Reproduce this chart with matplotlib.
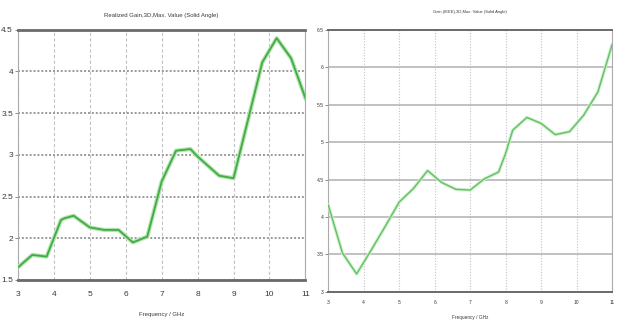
import matplotlib
matplotlib.use("Agg")
import matplotlib.pyplot as plt

# Realized gain (left panel)
freq_left = [3.0, 3.4, 3.8, 4.2, 4.3, 4.55, 5.0, 5.4, 5.8, 6.2, 6.6, 7.0, 7.4, 7.8, 8.0, 8.6, 9.0, 9.8, 10.2, 10.6, 11.0]
gain_left = [1.65, 1.80, 1.78, 2.22, 2.24, 2.27, 2.13, 2.10, 2.10, 1.95, 2.02, 2.68, 3.05, 3.07, 2.98, 2.75, 2.72, 4.11, 4.40, 4.16, 3.68]

# IEEE gain (right panel)
freq_right = [3.0, 3.4, 3.8, 4.2, 4.6, 5.0, 5.4, 5.8, 6.2, 6.6, 7.0, 7.4, 7.8, 8.0, 8.2, 8.6, 9.0, 9.4, 9.8, 10.2, 10.6, 11.0]
gain_right = [4.16, 3.52, 3.24, 3.55, 3.87, 4.20, 4.38, 4.62, 4.46, 4.37, 4.36, 4.51, 4.60, 4.85, 5.16, 5.33, 5.25, 5.10, 5.14, 5.36, 5.67, 6.30]

x_ticks = [3, 4, 5, 6, 7, 8, 9, 10, 11]
left_yticks = [1.5, 2, 2.5, 3, 3.5, 4, 4.5]
left_ylabels = ["1.5", "2", "2.5", "3", "3.5", "4", "4.5"]
right_yticks = [3, 3.5, 4, 4.5, 5, 5.5, 6, 6.5]
right_ylabels = ["3", "3.5", "4", "4.5", "5", "5.5", "6", "6.5"]

title_left = "Realized Gain,3D,Max. Value (Solid Angle)"
title_right = "Gain (IEEE),3D,Max. Value (Solid Angle)"
xlabel = "Frequency / GHz"

plt.rcParams["font.family"] = ["Liberation Sans", "DejaVu Sans"]

fig = plt.figure(figsize=(6.17, 3.24), dpi=100)
fig.patch.set_facecolor("white")

TEXT = "#3a3a3a"


def style_axes(ax, fs, xpad, hgrid_style, hgrid_color, hgrid_lw, vgrid_style, edge_lw):
    for side in ("left", "right"):
        ax.spines[side].set_color("#ababab")
        ax.spines[side].set_linewidth(0.8)
    for side in ("top", "bottom"):
        ax.spines[side].set_color("#6a6a6a")
        ax.spines[side].set_linewidth(edge_lw)
    ax.grid(True, axis="y", linestyle=hgrid_style, color=hgrid_color, linewidth=hgrid_lw)
    ax.grid(True, axis="x", linestyle=vgrid_style, color="#c2c2c2", linewidth=0.8)
    ax.tick_params(axis="y", length=2.5, width=0.6, color="#777777",
                   labelsize=fs, labelcolor=TEXT, pad=1)
    ax.tick_params(axis="x", length=0, labelsize=fs, labelcolor=TEXT, pad=xpad)


# Left panel
axL = fig.add_axes([0.029, 0.136, 0.466, 0.772])
axL.plot(freq_left, gain_left, color="#b4e2b4", linewidth=3.0, solid_joinstyle="round", zorder=3)
axL.plot(freq_left, gain_left, color="#3fae3f", linewidth=1.3, solid_joinstyle="round", zorder=4)
axL.set_xlim(3, 11)
axL.set_ylim(1.5, 4.5)
axL.set_xticks(x_ticks)
axL.set_yticks(left_yticks)
axL.set_yticklabels(left_ylabels)
style_axes(axL, 6, 8, (0, (1, 1)), "#9a9a9a", 1.4, (0, (3, 2)), 2.0)
axL.set_title(title_left, fontsize=4.3, color=TEXT, pad=9)
axL.set_xlabel(xlabel, fontsize=4.3, color=TEXT, labelpad=10)

# Right panel
axR = fig.add_axes([0.532, 0.099, 0.460, 0.809])
axR.plot(freq_right, gain_right, color="#cdeecd", linewidth=2.4, solid_joinstyle="round", zorder=3)
axR.plot(freq_right, gain_right, color="#62c262", linewidth=1.0, solid_joinstyle="round", zorder=4)
axR.set_xlim(3, 11)
axR.set_ylim(3, 6.5)
axR.set_xticks(x_ticks)
axR.set_yticks(right_yticks)
axR.set_yticklabels(right_ylabels)
style_axes(axR, 3.6, 6, "-", "#b0b0b0", 1.1, (0, (1, 1.5)), 1.4)
axR.set_title(title_right, fontsize=3.0, color=TEXT, pad=12)
axR.set_xlabel(xlabel, fontsize=3.4, color=TEXT, labelpad=7)

fig.savefig("out.png", dpi=100, facecolor="white")
